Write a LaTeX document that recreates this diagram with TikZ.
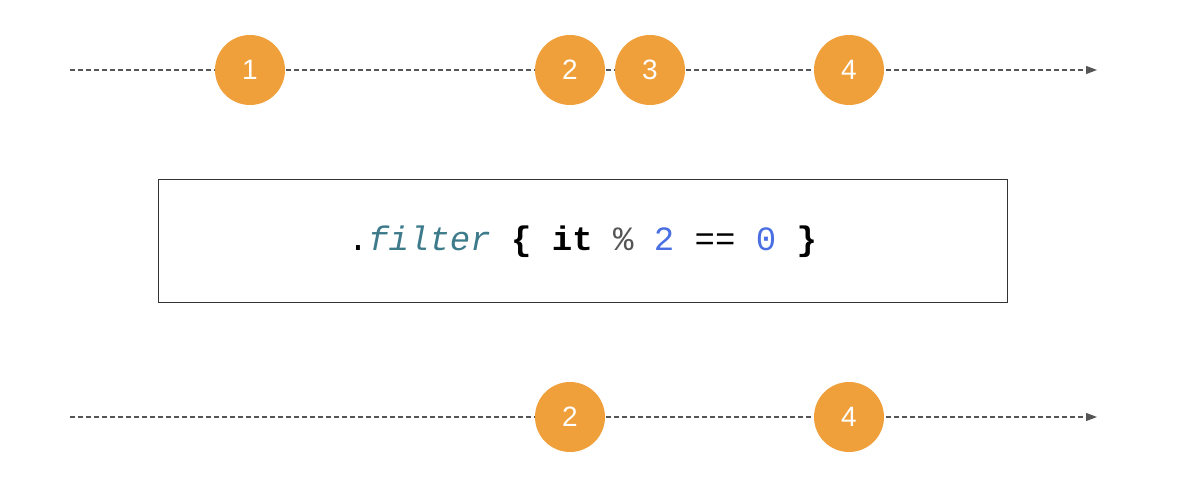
\documentclass[tikz,border=0pt]{standalone}
\usepackage{fontspec}
\setmonofont{Liberation Mono}
\newfontfamily\markfont{Liberation Sans}
\usetikzlibrary{arrows.meta}
\definecolor{marble}{HTML}{F0A03A}
\definecolor{lineg}{HTML}{555555}
\definecolor{fncol}{HTML}{3D7A8A}
\definecolor{numcol}{HTML}{4A6FE3}
\definecolor{opcol}{HTML}{555555}
\begin{document}
\begin{tikzpicture}[x=1pt,y=-1pt,
	marb/.style={circle,fill=marble,minimum size=70pt,inner sep=0pt,text=white,font=\markfont\fontsize{28}{28}\selectfont},
	timeline/.style={draw=lineg,line width=1.1pt,dash pattern=on 5pt off 3pt,-{Triangle[length=11pt,width=8pt]}},
	opbox/.style={draw=black!80,line width=1pt,minimum width=849pt,minimum height=123pt,inner sep=0pt}]
	\useasboundingbox (0,0) rectangle (1186,478);
	% source stream
	\coordinate (ts) at (70,70);
	\coordinate (te) at (1097,70);
	\draw[timeline] (ts) -- (te);
	\node[marb] (a1) at (250,70) {1};
	\node[marb] (a2) at (570,70) {2};
	\node[marb] (a3) at (650,70) {3};
	\node[marb] (a4) at (849,70) {4};
	% operator
	\node[opbox] (op) at (582.5,241.5) {\raisebox{-3pt}{\ttfamily\fontsize{34}{40}\selectfont .\textcolor{fncol}{\itshape filter} \textbf{\{} \textbf{it} \textcolor{opcol}{\%} \textcolor{numcol}{2} == \textcolor{numcol}{0} \textbf{\}}}};
	% result stream
	\coordinate (bs) at (70,417);
	\coordinate (be) at (1097,417);
	\draw[timeline] (bs) -- (be);
	\node[marb] (b2) at (570,417) {2};
	\node[marb] (b4) at (849,417) {4};
\end{tikzpicture}
\end{document}
